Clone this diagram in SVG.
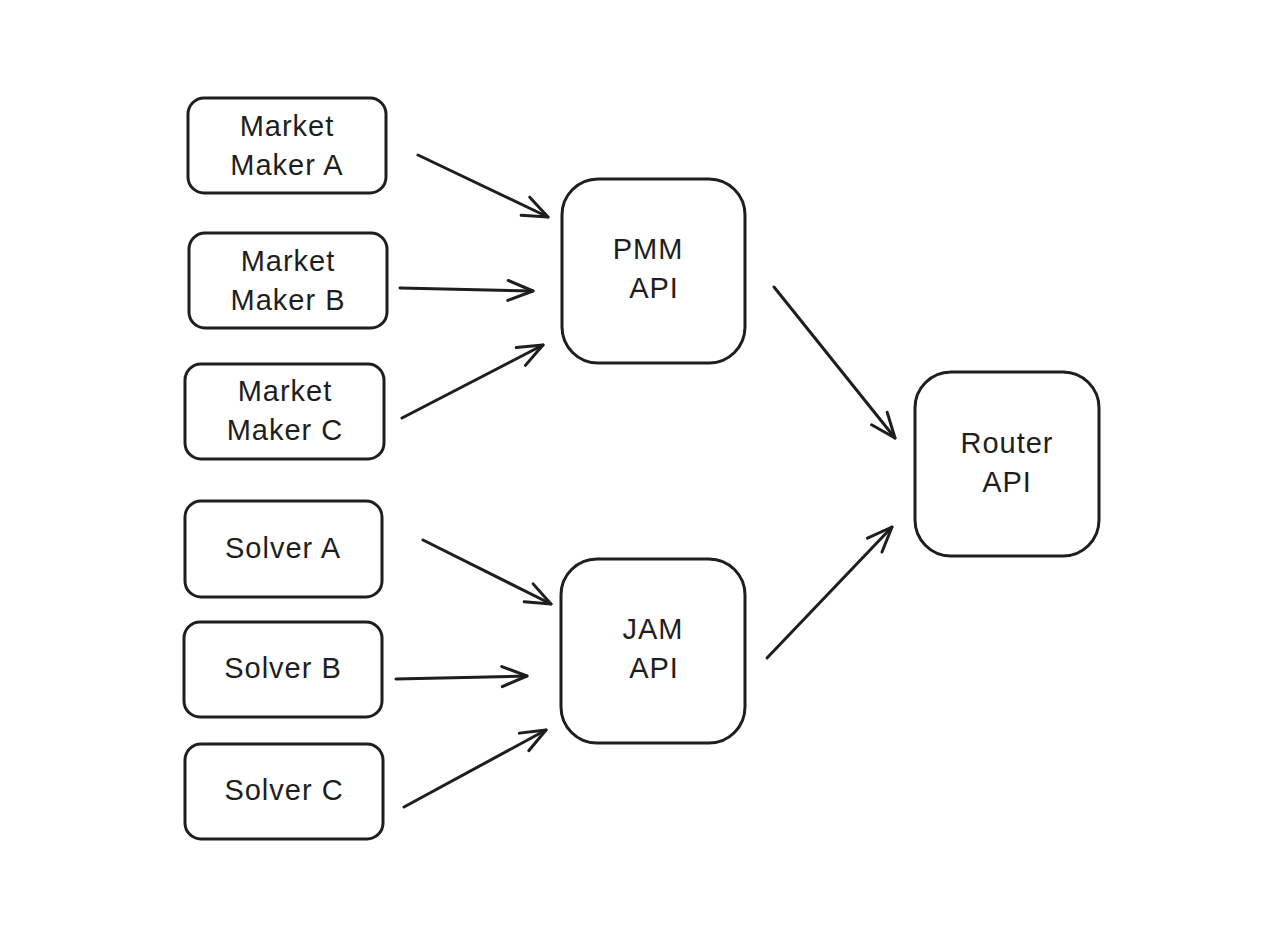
<svg xmlns="http://www.w3.org/2000/svg" width="1280" height="933" viewBox="0 0 1280 933">
<style>
.box{fill:#fff;stroke:#1e1e1e;stroke-width:3}
.t{font-family:"Liberation Sans","DejaVu Sans",sans-serif;font-size:29px;fill:#1e1e1e;text-anchor:middle;letter-spacing:1px}
.c{fill:none;stroke:#1e1e1e;stroke-width:3;stroke-linecap:round}
</style>
<defs>
<marker id="ah" markerUnits="userSpaceOnUse" markerWidth="40" markerHeight="40" refX="0" refY="0" viewBox="-30 -20 40 40" orient="auto" overflow="visible">
<path d="M -25 -10 L 0 0 L -25 10" fill="none" stroke="#1e1e1e" stroke-width="3" stroke-linecap="round" stroke-linejoin="round"/>
</marker>
</defs>
<rect width="1280" height="933" fill="#fff"/>
<g id="mma"><rect class="box" x="188" y="98" width="198" height="95" rx="16"/><text class="t" x="287" y="136">Market</text><text class="t" x="287" y="175">Maker A</text></g>
<g id="mmb"><rect class="box" x="189" y="233" width="198" height="95" rx="16"/><text class="t" x="288" y="271">Market</text><text class="t" x="288" y="310">Maker B</text></g>
<g id="mmc"><rect class="box" x="185" y="364" width="199" height="95" rx="16"/><text class="t" x="285" y="401">Market</text><text class="t" x="285" y="440">Maker C</text></g>
<g id="sa"><rect class="box" x="185" y="501" width="197" height="96" rx="16"/><text class="t" x="283" y="558">Solver A</text></g>
<g id="sb"><rect class="box" x="184" y="622" width="198" height="95" rx="16"/><text class="t" x="283" y="678">Solver B</text></g>
<g id="sc"><rect class="box" x="185" y="744" width="198" height="95" rx="16"/><text class="t" x="284" y="800">Solver C</text></g>
<g id="pmm"><rect class="box" x="562" y="179" width="183" height="184" rx="36"/><text class="t" x="648" y="259">PMM</text><text class="t" x="654" y="298">API</text></g>
<g id="jam"><rect class="box" x="561" y="559" width="184" height="184" rx="36"/><text class="t" x="653" y="639">JAM</text><text class="t" x="654" y="678">API</text></g>
<g id="router"><rect class="box" x="915" y="372" width="184" height="184" rx="36"/><text class="t" x="1007" y="453">Router</text><text class="t" x="1007" y="492">API</text></g>
<g id="connectors">
<line class="c" x1="418" y1="155" x2="548" y2="217" marker-end="url(#ah)"/>
<line class="c" x1="400" y1="288" x2="533" y2="291" marker-end="url(#ah)"/>
<line class="c" x1="402" y1="418" x2="543" y2="345" marker-end="url(#ah)"/>
<line class="c" x1="423" y1="540" x2="551" y2="604" marker-end="url(#ah)"/>
<line class="c" x1="396" y1="679" x2="527" y2="676" marker-end="url(#ah)"/>
<line class="c" x1="404" y1="807" x2="546" y2="730" marker-end="url(#ah)"/>
<line class="c" x1="774" y1="287" x2="895" y2="438" marker-end="url(#ah)"/>
<line class="c" x1="767" y1="658" x2="892" y2="527" marker-end="url(#ah)"/>
</g>
</svg>
